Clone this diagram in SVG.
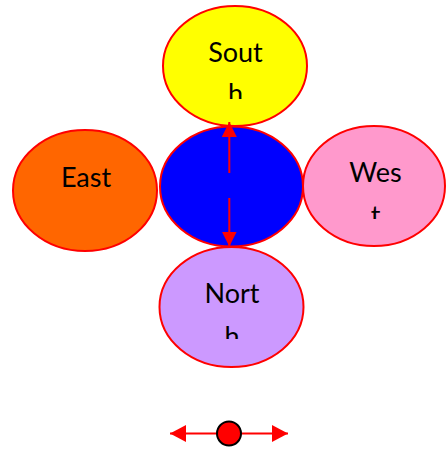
<svg xmlns="http://www.w3.org/2000/svg" width="446" height="450" viewBox="0 0 446 450">
<style>
.n{stroke:#FF0000;stroke-width:2}
.t{font-family:Lato,"Liberation Sans",Arial,sans-serif;font-size:27px;fill:#000;text-anchor:middle}
.c{stroke:#FF0000;stroke-width:2;fill:none}
</style>
<defs>
<marker id="ah" viewBox="0 0 15 15" refX="15" refY="7.5" markerWidth="15" markerHeight="15" markerUnits="userSpaceOnUse" orient="auto">
<path d="M0,0 L15,7.5 L0,15 Z" fill="#FF0000"/>
</marker>
<marker id="ah2" viewBox="0 0 16 17" refX="16" refY="8.5" markerWidth="16" markerHeight="17" markerUnits="userSpaceOnUse" orient="auto">
<path d="M0,0 L16,8.5 L0,17 Z" fill="#FF0000"/>
</marker>
<clipPath id="cS"><rect x="150" y="70" width="170" height="29"/></clipPath>
<clipPath id="cW"><rect x="300" y="195" width="146" height="24"/></clipPath>
<clipPath id="cN"><rect x="150" y="315" width="170" height="24"/></clipPath>
</defs>
<g id="south">
<ellipse class="n" cx="235" cy="66" rx="72" ry="60" fill="#FFFF00"/>
<text class="t" x="235.5" y="62">Sout</text>
<text class="t" x="235.5" y="102.5" clip-path="url(#cS)">h</text>
</g>
<g id="east">
<ellipse class="n" cx="85" cy="190.5" rx="72" ry="60.5" fill="#FF6600"/>
<text class="t" x="86" y="187">East</text>
</g>
<g id="west">
<ellipse class="n" cx="374" cy="186" rx="71" ry="60" fill="#FF99CC"/>
<text class="t" x="375.5" y="182">Wes</text>
<text class="t" x="375.5" y="225" clip-path="url(#cW)">t</text>
</g>
<g id="north">
<ellipse class="n" cx="231.5" cy="307" rx="72" ry="60" fill="#CC99FF"/>
<text class="t" x="232" y="303">Nort</text>
<text class="t" x="232" y="345.5" clip-path="url(#cN)">h</text>
</g>
<g id="center">
<ellipse class="n" cx="231.5" cy="186.5" rx="71.5" ry="60" fill="#0000FF"/>
</g>
<g id="connectors">
<line class="c" x1="229.3" y1="173" x2="229.3" y2="122" marker-end="url(#ah)"/>
<line class="c" x1="229.3" y1="198" x2="229.3" y2="246.5" marker-end="url(#ah)"/>
<line class="c" x1="217" y1="433.5" x2="170" y2="433.5" marker-end="url(#ah2)"/>
<line class="c" x1="241" y1="433.5" x2="288" y2="433.5" marker-end="url(#ah2)"/>
</g>
<g id="point">
<circle cx="229" cy="433.5" r="12" fill="#FF0000" stroke="#000" stroke-width="2"/>
</g>
</svg>
